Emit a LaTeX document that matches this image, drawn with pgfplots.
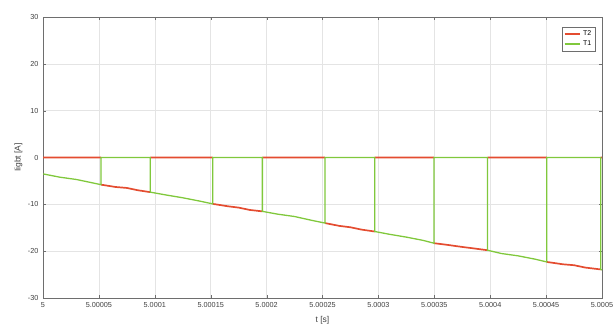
\documentclass[border=0pt]{standalone}
\usepackage{pgfplots}
\pgfplotsset{compat=1.18}
\usepackage{fontspec}
\setmainfont{Liberation Sans}
\definecolor{tred}{RGB}{228,76,48}
\definecolor{tgreen}{RGB}{128,200,60}
\definecolor{gridc}{RGB}{228,228,228}
\definecolor{axc}{RGB}{110,110,110}
\begin{document}
\begin{tikzpicture}
\useasboundingbox (-43bp,-34bp) rectangle (570bp,298bp);
\begin{axis}[
  scale only axis,
  width=559bp, height=281bp,
  xmin=0, xmax=50, ymin=-30, ymax=30,
  xtick={0,5,10,15,20,25,30,35,40,45,50},
  xticklabels={5,5.00005,5.0001,5.00015,5.0002,5.00025,5.0003,5.00035,5.0004,5.00045,5.0005},
  ytick={-30,-20,-10,0,10,20,30},
  unbounded coords=jump,
  /pgf/number format/assume math mode=true,
  tick label style={font=\fontsize{7.3}{8}\selectfont, text=black!75},
  label style={font=\fontsize{8.5}{9}\selectfont, text=black!75},
  xlabel={t [s]}, ylabel={Iigbt [A]},
  xlabel style={at={(0.5,0)}, yshift=-15bp, anchor=north},
  ylabel style={at={(0,0.5)}, yshift=17bp, anchor=south},
  xticklabel style={yshift=-1bp},
  yticklabel style={xshift=-1bp},
  grid=major,
  major grid style={gridc, line width=0.5pt},
  axis line style={axc, line width=0.6pt},
  major tick length=3bp,
  tick style={axc},
  tick align=inside, tick pos=both,
  legend style={at={(1,1)}, xshift=-7bp, yshift=-10bp, anchor=north east,
    font=\fontsize{7}{8}\selectfont, draw=axc, line width=0.5pt,
    inner sep=1.5pt, row sep=0pt},
  legend cell align=left,
  legend image code/.code={\draw[#1, line width=1.8pt] (0cm,0cm) -- (0.55cm,0cm);},
]
\addplot[tred, line width=1.7pt] coordinates {
 (0,0) (5.19,0) (5.19,nan)
 (5.19,-5.8) (6.5,-6.3) (7.5,-6.5) (8.5,-7.0) (9.60,-7.4) (9.60,nan)
 (9.60,0) (15.18,0) (15.18,nan)
 (15.18,-9.9) (16.5,-10.4) (17.5,-10.7) (18.5,-11.2) (19.62,-11.5) (19.62,nan)
 (19.62,0) (25.22,0) (25.22,nan)
 (25.22,-14.0) (26.5,-14.6) (27.5,-14.9) (28.5,-15.4) (29.67,-15.8) (29.67,nan)
 (29.67,0) (34.97,0) (34.97,nan)
 (34.97,-18.3) (36,-18.6) (37.5,-19.1) (38.5,-19.4) (39.76,-19.8) (39.76,nan)
 (39.76,0) (45.06,0) (45.06,nan)
 (45.06,-22.3) (46.5,-22.8) (47.5,-23.0) (48.5,-23.5) (49.88,-23.9) (49.88,nan)
 (49.88,0) (50,0)
};
\addlegendentry{T2}
\addplot[tgreen, line width=1.3pt] coordinates {
 (0,-3.5) (1.5,-4.2) (3,-4.7) (4,-5.2) (5.19,-5.8) (5.19,0) (9.60,0)
 (9.60,-7.4) (11,-8.0) (12.5,-8.6) (14,-9.3) (15.18,-9.9) (15.18,0) (19.62,0)
 (19.62,-11.5) (21,-12.1) (22.5,-12.6) (24,-13.4) (25.22,-14.0) (25.22,0) (29.67,0)
 (29.67,-15.8) (31,-16.4) (32.5,-17.0) (34,-17.7) (34.97,-18.3) (34.97,0) (39.76,0)
 (39.76,-19.8) (41,-20.5) (42.5,-21.0) (44,-21.7) (45.06,-22.3) (45.06,0) (49.88,0)
 (49.88,-23.9) (50,-24.0)
};
\addlegendentry{T1}
\end{axis}
\end{tikzpicture}
\end{document}
